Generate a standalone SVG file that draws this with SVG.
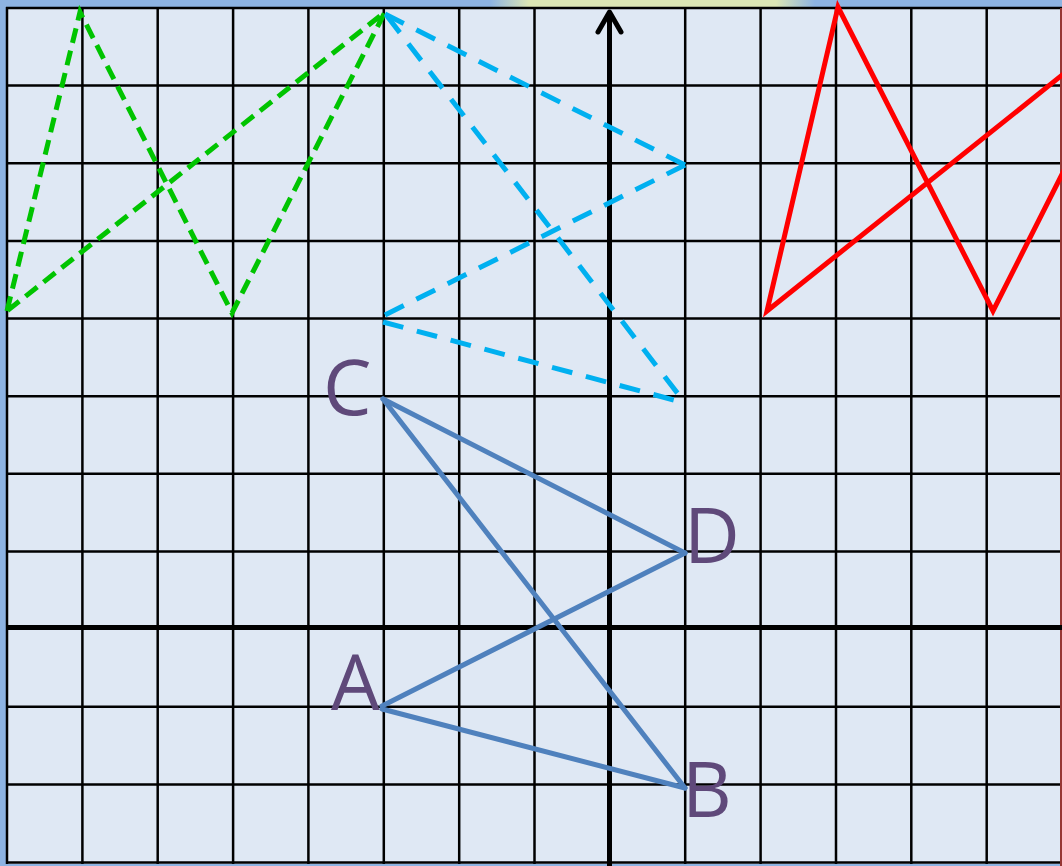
<svg xmlns="http://www.w3.org/2000/svg" width="1062" height="866" viewBox="0 0 1062 866">
  <defs>
    <linearGradient id="glow" x1="0" y1="0" x2="1" y2="0">
      <stop offset="0" stop-color="#8db3e2"/>
      <stop offset="0.12" stop-color="#dce6b4"/>
      <stop offset="0.88" stop-color="#dce6b4"/>
      <stop offset="1" stop-color="#8db3e2"/>
    </linearGradient>
    <style>
      .grid line { stroke: #000; stroke-width: 2.5; }
      .axis { stroke: #000; stroke-width: 5; fill: none; }
      .green { stroke: #00c400; stroke-width: 5; fill: none; stroke-dasharray: 15 8; }
      .cyan { stroke: #00b0f0; stroke-width: 5; fill: none; stroke-dasharray: 21 14; }
      .red { stroke: #ff0000; stroke-width: 5; fill: none; stroke-linejoin: miter; }
      .blue { stroke: #4f81bd; stroke-width: 5; fill: none; stroke-linecap: round; }
      .lbl { font-family: "Open Sans", "Noto Sans", "Liberation Sans", sans-serif; font-size: 77px; fill: #5f497a; }
    </style>
  </defs>

  <!-- background and border -->
  <rect x="0" y="0" width="1062" height="866" fill="#8db3e2"/>
  <rect x="490" y="0" width="325" height="8" fill="url(#glow)"/>
  <rect x="6" y="7" width="1056" height="857" fill="#dfe8f4"/>

  <!-- grid -->
  <g class="grid">
    <line x1="7" y1="7" x2="7" y2="864"/>
    <line x1="82.4" y1="7" x2="82.4" y2="864"/>
    <line x1="157.7" y1="7" x2="157.7" y2="864"/>
    <line x1="233.1" y1="7" x2="233.1" y2="864"/>
    <line x1="308.4" y1="7" x2="308.4" y2="864"/>
    <line x1="383.8" y1="7" x2="383.8" y2="864"/>
    <line x1="459.2" y1="7" x2="459.2" y2="864"/>
    <line x1="534.5" y1="7" x2="534.5" y2="864"/>
    <line x1="685.2" y1="7" x2="685.2" y2="864"/>
    <line x1="760.6" y1="7" x2="760.6" y2="864"/>
    <line x1="836" y1="7" x2="836" y2="864"/>
    <line x1="911.3" y1="7" x2="911.3" y2="864"/>
    <line x1="986.7" y1="7" x2="986.7" y2="864"/>
    <line x1="6" y1="8" x2="1062" y2="8"/>
    <line x1="6" y1="85.6" x2="1062" y2="85.6"/>
    <line x1="6" y1="163.3" x2="1062" y2="163.3"/>
    <line x1="6" y1="240.9" x2="1062" y2="240.9"/>
    <line x1="6" y1="318.6" x2="1062" y2="318.6"/>
    <line x1="6" y1="396.2" x2="1062" y2="396.2"/>
    <line x1="6" y1="473.8" x2="1062" y2="473.8"/>
    <line x1="6" y1="551.5" x2="1062" y2="551.5"/>
    <line x1="6" y1="706.8" x2="1062" y2="706.8"/>
    <line x1="6" y1="784.4" x2="1062" y2="784.4"/>
    <line x1="6" y1="862.5" x2="1062" y2="862.5"/>
  </g>
  <line x1="1061" y1="8" x2="1061" y2="866" stroke="#963634" stroke-width="2"/>

  <!-- axes -->
  <g id="axes">
    <line class="axis" x1="6" y1="627.5" x2="1062" y2="627.5"/>
    <line class="axis" x1="609.5" y1="866" x2="609.5" y2="12"/>
    <polyline class="axis" points="598,32 609.5,12 621,32" stroke-linecap="round" stroke-linejoin="round"/>
  </g>

  <!-- connectors -->
  <g id="connectors">
    <polygon class="green" points="7,311 80,12 232,313 385,12"/>
    <line class="cyan" x1="385" y1="14" x2="685" y2="165"/>
    <line class="cyan" x1="387" y1="16" x2="685" y2="403"/>
    <line class="cyan" x1="385" y1="315" x2="685" y2="165"/>
    <line class="cyan" x1="383" y1="322" x2="685" y2="403"/>
    <polygon class="red" points="767,311 838,7 993,311 1146,8"/>
    <line class="blue" x1="383" y1="399" x2="685" y2="553"/>
    <line class="blue" x1="383" y1="399" x2="685" y2="788"/>
    <line class="blue" x1="382" y1="706" x2="685" y2="553"/>
    <line class="blue" x1="382" y1="709" x2="685" y2="788"/>
  </g>

  <!-- nodes -->
  <g id="node-C"><text class="lbl" x="323" y="415">C</text></g>
  <g id="node-D"><text class="lbl" x="684" y="563">D</text></g>
  <g id="node-A"><text class="lbl" x="331" y="710">A</text></g>
  <g id="node-B"><text class="lbl" x="682" y="817">B</text></g>
</svg>
